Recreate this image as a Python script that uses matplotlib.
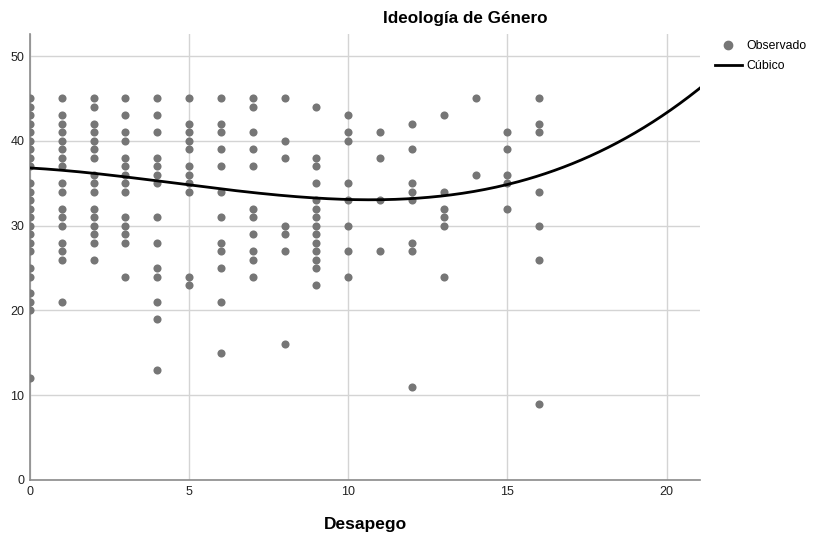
import matplotlib
matplotlib.use('Agg')
import matplotlib.pyplot as plt
import numpy as np
from matplotlib.lines import Line2D

# observed values of "Ideología de Género" for each value of "Desapego"
obs_by_x = {
    0: [45, 44, 43, 42, 41, 40, 39, 38, 37, 35, 34, 33, 32, 31, 30, 29, 28, 27, 25, 24, 22, 21, 20, 12],
    1: [45, 43, 42, 41, 40, 39, 38, 37, 35, 34, 32, 31, 30, 28, 27, 26, 21],
    2: [45, 44, 42, 41, 40, 39, 38, 36, 35, 34, 32, 31, 30, 29, 28, 26],
    3: [45, 43, 41, 40, 38, 37, 36, 35, 34, 31, 30, 29, 28, 24],
    4: [45, 43, 41, 38, 37, 36, 35, 31, 28, 25, 24, 21, 19, 13],
    5: [45, 42, 41, 40, 39, 37, 36, 35, 34, 24, 23],
    6: [45, 42, 41, 39, 37, 34, 31, 28, 27, 25, 21, 15],
    7: [45, 44, 41, 39, 37, 32, 31, 29, 27, 26, 24],
    8: [45, 40, 38, 30, 29, 27, 16],
    9: [44, 38, 37, 35, 33, 32, 31, 30, 29, 28, 27, 26, 25, 23],
    10: [43, 41, 40, 35, 33, 30, 27, 24],
    11: [41, 38, 33, 27],
    12: [42, 39, 35, 34, 33, 28, 27, 11],
    13: [43, 34, 32, 31, 30, 24],
    14: [45, 36],
    15: [41, 39, 36, 35, 32],
    16: [45, 42, 41, 34, 30, 26, 9],
}

# cubic fit coefficients (a + b*x + c*x^2 + d*x^3)
cubic = [36.8, -0.215, -0.05833, 0.004267]

desapego = []
ideologia = []
for k, vals in obs_by_x.items():
    desapego += [k] * len(vals)
    ideologia += vals

plt.rcParams['font.family'] = ['Liberation Sans', 'DejaVu Sans']

fig = plt.figure(figsize=(8.16, 5.37), dpi=100)
ax = fig.add_axes([30 / 816, 1 - 480 / 537, 670 / 816, 446 / 537])

ax.scatter(desapego, ideologia, s=34, color='#767676', zorder=3, linewidths=0)

xmax = 21.05
xs = np.linspace(0, xmax, 300)
ys = cubic[0] + cubic[1] * xs + cubic[2] * xs ** 2 + cubic[3] * xs ** 3
ax.plot(xs, ys, color='black', lw=2, zorder=4)

ax.set_xlim(0, xmax)
ax.set_ylim(0, 52.6)
ax.set_xticks([0, 5, 10, 15, 20])
ax.set_yticks([0, 10, 20, 30, 40, 50])
ax.tick_params(length=0, labelsize=9, pad=4, colors='#222222')
ax.grid(True, color='#d4d4d4', lw=1)
ax.set_axisbelow(True)
for s in ['top', 'right']:
    ax.spines[s].set_visible(False)
for s in ['left', 'bottom']:
    ax.spines[s].set_color('#8a8a8a')
    ax.spines[s].set_linewidth(1.2)

fig.text(365 / 816, 1 - 524 / 537, 'Desapego', ha='center', va='center',
         fontsize=12.5, fontweight='bold')
fig.text(465 / 816, 1 - 19 / 537, 'Ideología de Género', ha='center', va='center',
         fontsize=12.3, fontweight='bold')

handles = [
    Line2D([], [], marker='o', ls='none', color='#767676', markersize=6),
    Line2D([], [], color='black', lw=2),
]
fig.legend(handles, ['Observado', 'Cúbico'], loc='upper left',
           bbox_to_anchor=(710 / 816, 1 - 35 / 537), frameon=False,
           fontsize=8.8, handlelength=2.2, handletextpad=0.4, labelspacing=0.65,
           borderaxespad=0)

fig.savefig('out.png', dpi=100)
